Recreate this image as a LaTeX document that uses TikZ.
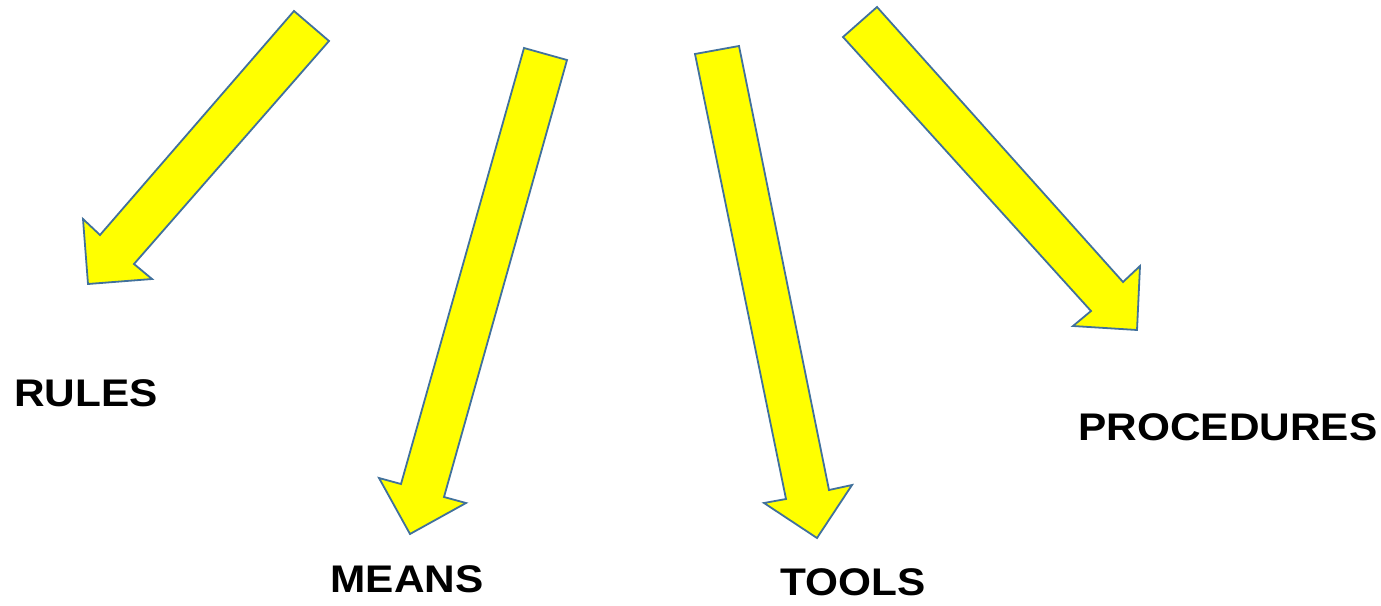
\documentclass[tikz,border=0pt]{standalone}
\usepackage{fontspec}
\setmainfont{Liberation Sans}
\definecolor{arrowline}{RGB}{65,113,156}
\definecolor{arrowfill}{RGB}{255,255,0}
\begin{document}
\begin{tikzpicture}[x=1pt,y=-1pt,
  bigarrow/.style={draw=arrowline,fill=arrowfill,line width=1.8pt,line join=miter},
  lbl/.style={font=\fontsize{38.5}{40}\selectfont\bfseries,inner sep=0pt,anchor=center}]
\useasboundingbox[fill=white] (0,0) rectangle (1381,605);
% RULES arrow
\draw[bigarrow] (294,11) -- (329,41) -- (134,264) -- (152,279) -- (88,284) -- (83,219) -- (100,235) -- cycle;
% MEANS arrow
\draw[bigarrow] (524,48) -- (567,60) -- (444,497) -- (466,503) -- (410,534) -- (379,478) -- (401,484) -- cycle;
% TOOLS arrow
\draw[bigarrow] (695,54) -- (739,46) -- (829,490) -- (852,485) -- (817,538) -- (764,503) -- (786,499) -- cycle;
% PROCEDURES arrow
\draw[bigarrow] (843,37) -- (877,7) -- (1123,282) -- (1140,266) -- (1137,330) -- (1073,326) -- (1091,311) -- cycle;
\node[lbl] (rules) at (86,393) {\scalebox{1.1}[1]{RULES}};
\node[lbl] (means) at (407,579) {\scalebox{1.1}[1]{MEANS}};
\node[lbl] (tools) at (853,582) {\scalebox{1.1}[1]{TOOLS}};
\node[lbl] (proc) at (1228,427) {\scalebox{1.1}[1]{PROCEDURES}};
\end{tikzpicture}
\end{document}
